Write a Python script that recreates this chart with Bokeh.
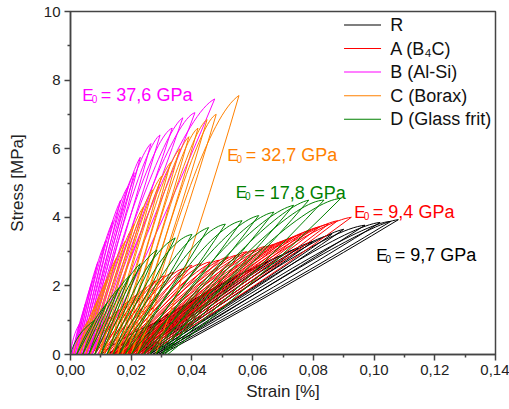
import numpy as np
from bokeh.plotting import figure
from bokeh.models import (ColumnDataSource, Label, FixedTicker,
                          CustomJSTickFormatter, Range1d)
from bokeh.embed import file_html
from bokeh.resources import INLINE

# ---------------- data ----------------
# R (reference) - black
R_peak_strain = [0.030, 0.035, 0.040, 0.045, 0.050, 0.055, 0.060, 0.065, 0.070,
                 0.075, 0.080, 0.086, 0.090, 0.097, 0.102, 0.1055, 0.108]
R_peak_stress = [1.0, 1.3, 1.55, 1.8, 2.05, 2.3, 2.5, 2.7, 2.9,
                 3.1, 3.3, 3.5, 3.65, 3.77, 3.85, 3.88, 3.93]
R_residual = [0.010, 0.012, 0.014, 0.016, 0.017, 0.018, 0.019, 0.020, 0.021,
              0.022, 0.023, 0.024, 0.025, 0.026, 0.027, 0.028, 0.029, 0.030]

# A (B4C) - red
A_peak_strain = [0.010, 0.013, 0.016, 0.019, 0.022, 0.025, 0.028, 0.031, 0.034, 0.037,
                 0.040, 0.043, 0.046, 0.049, 0.052, 0.055, 0.058, 0.061, 0.064, 0.067,
                 0.070, 0.073, 0.076, 0.079, 0.082, 0.085, 0.088, 0.0925]
A_peak_stress = [0.85, 1.1, 1.3, 1.55, 1.75, 1.95, 2.15, 2.3, 2.4, 2.5,
                 2.6, 2.65, 2.7, 2.75, 2.85, 2.9, 3.0, 3.05, 3.15, 3.2,
                 3.3, 3.4, 3.5, 3.62, 3.72, 3.8, 3.9, 4.0]
A_residual = [0.004, 0.005, 0.006, 0.007, 0.008, 0.009, 0.010, 0.011, 0.012, 0.013,
              0.0135, 0.014, 0.0145, 0.015, 0.0155, 0.016, 0.0165, 0.017, 0.0175, 0.018,
              0.0185, 0.019, 0.0195, 0.020, 0.021, 0.022, 0.023, 0.024, 0.025]

# B (Al-Si) - magenta
B_peak_strain = [0.003, 0.005, 0.007, 0.009, 0.0115, 0.014, 0.0165, 0.019,
                 0.021, 0.023, 0.0265, 0.0295, 0.0335, 0.037, 0.041, 0.0475]
B_peak_stress = [0.9, 1.5, 2.1, 2.7, 3.3, 3.9, 4.5, 4.9,
                 5.3, 5.75, 6.15, 6.4, 6.6, 6.9, 7.05, 7.45]
B_residual = [0.0, 0.0005, 0.001, 0.0015, 0.002, 0.0025, 0.003, 0.0035, 0.004,
              0.0045, 0.005, 0.0055, 0.006, 0.0065, 0.007, 0.008, 0.009]

# C (Borax) - orange
C_peak_strain = [0.006, 0.009, 0.012, 0.015, 0.018, 0.021, 0.024, 0.027,
                 0.030, 0.033, 0.036, 0.039, 0.042, 0.045, 0.048, 0.0555]
C_peak_stress = [1.0, 1.6, 2.2, 2.8, 3.3, 3.8, 4.3, 4.8,
                 5.2, 5.6, 6.0, 6.35, 6.6, 6.85, 7.0, 7.55]
C_residual = [0.001, 0.002, 0.003, 0.004, 0.005, 0.0065, 0.008, 0.0095, 0.011,
              0.0125, 0.014, 0.0155, 0.017, 0.0185, 0.020, 0.022, 0.028]

# D (Glass frit) - green
D_peak_strain = [0.008, 0.012, 0.016, 0.0195, 0.023, 0.0285, 0.0345, 0.040, 0.0455,
                 0.051, 0.0565, 0.062, 0.067, 0.0735, 0.0785, 0.0835, 0.089]
D_peak_stress = [1.0, 1.5, 1.95, 2.3, 2.65, 3.05, 3.4, 3.5, 3.7,
                 3.8, 3.9, 4.05, 4.15, 4.35, 4.5, 4.5, 4.55]
D_residual = [0.0, 0.002, 0.004, 0.006, 0.008, 0.010, 0.012, 0.014, 0.016,
              0.018, 0.020, 0.022, 0.024, 0.026, 0.028, 0.030, 0.031, 0.032]

series_names = ["R", "A (B\u2084C)", "B (Al-Si)", "C (Borax)", "D (Glass frit)"]
moduli = ["9,7", "9,4", "37,6", "32,7", "17,8"]

x_ticks = [0.0, 0.02, 0.04, 0.06, 0.08, 0.10, 0.12, 0.14]
y_ticks = [0, 2, 4, 6, 8, 10]

# ---------------- styles ----------------
colors = ["#000000", "#FF0000", "#FF00FF", "#FF8000", "#008000"]
# loop shape: first loading (a, b), reloading lift h, unloading (c, d)
shapes = [(0.35, 0.55, 0.05, 0.55, 0.52),
          (0.25, 0.60, 0.12, 0.55, 0.50),
          (0.22, 0.62, 0.08, 0.55, 0.50),
          (0.30, 0.58, 0.07, 0.55, 0.50),
          (0.22, 0.62, 0.14, 0.55, 0.50)]
FONT = "Liberation Sans"

p = figure(width=509, height=409, output_backend="svg", toolbar_location=None,
           x_range=Range1d(0, 0.14), y_range=Range1d(0, 10),
           min_border_left=70, min_border_right=14, min_border_top=11,
           min_border_bottom=55)
p.xgrid.visible = False
p.ygrid.visible = False
p.outline_line_color = "#444444"
p.outline_line_width = 1.5
p.background_fill_color = "white"
p.border_fill_color = "white"

all_data = [(R_peak_strain, R_peak_stress, R_residual),
            (A_peak_strain, A_peak_stress, A_residual),
            (B_peak_strain, B_peak_stress, B_residual),
            (C_peak_strain, C_peak_stress, C_residual),
            (D_peak_strain, D_peak_stress, D_residual)]

for (px, py, res), col, (a, b, h, c, d) in zip(all_data, colors, shapes):
    px = np.array(px); py = np.array(py); res = np.array(res)
    n = len(px)
    r0 = res[:n]; r1 = res[1:n + 1]
    z = np.zeros(n)
    # previous peak (the loop closes near it); the first loading uses its own shape
    qx = np.concatenate([[np.nan], px[:-1]])
    qy = np.concatenate([[np.nan], py[:-1]])
    cx0 = r0 + 0.45 * (qx - r0)
    cy0 = (0.45 + h) * qy
    cx1 = qx - 0.08 * (qx - r0)
    cy1 = qy.copy()
    # first cycle: quadratic-like concave loading
    fqx, fqy = r0[0] + a * (px[0] - r0[0]), b * py[0]
    cx0[0] = r0[0] + 2 / 3 * (fqx - r0[0]); cy0[0] = 2 / 3 * fqy
    cx1[0] = px[0] + 2 / 3 * (fqx - px[0]); cy1[0] = py[0] + 2 / 3 * (fqy - py[0])
    load = ColumnDataSource(dict(x0=r0, y0=z, x1=px, y1=py,
                                 cx0=cx0, cy0=cy0, cx1=cx1, cy1=cy1))
    ux, uy = r1 + c * (px - r1), d * py
    unload = ColumnDataSource(dict(x0=px, y0=py, x1=r1, y1=z,
                                   cx0=px + 2 / 3 * (ux - px), cy0=py + 2 / 3 * (uy - py),
                                   cx1=r1 + 2 / 3 * (ux - r1), cy1=2 / 3 * uy))
    for src in (load, unload):
        p.bezier(x0="x0", y0="y0", x1="x1", y1="y1", cx0="cx0", cy0="cy0",
                 cx1="cx1", cy1="cy1", source=src, line_color=col, line_width=1)

# ---- legend (drawn by hand, top right of the frame) ----
key_xc, key_tx = 0.0962, 0.1053
key_y = [9.606, 8.920, 8.234, 7.547, 6.861]
p.rect(x=[key_xc] * 5, y=key_y, width=37, height=1, width_units="screen",
       height_units="screen", fill_color=colors, line_color=None)
for yy, name in zip(key_y, series_names):
    p.add_layout(Label(x=key_tx, y=yy, text=name, text_font=FONT, text_font_size="18px",
                       text_color="#111111", text_baseline="middle"))

# axes
for ax in (p.xaxis[0], p.yaxis[0]):
    ax.axis_line_color = "#444444"
    ax.axis_line_width = 1.5
    ax.major_tick_line_color = "#444444"
    ax.minor_tick_line_color = "#444444"
    ax.major_tick_line_width = 1.5
    ax.minor_tick_line_width = 1.5
    ax.major_tick_in = 0
    ax.minor_tick_in = 0
    ax.major_tick_out = 6
    ax.minor_tick_out = 3
    ax.major_label_text_font = FONT
    ax.major_label_text_font_size = "15px"
    ax.major_label_text_color = "#222222"
    ax.axis_label_text_font = FONT
    ax.axis_label_text_font_size = "17px"
    ax.axis_label_text_font_style = "normal"
    ax.axis_label_text_color = "#222222"

p.xaxis.ticker = FixedTicker(ticks=x_ticks,
                             minor_ticks=[t + 0.01 for t in x_ticks[:-1]])
p.yaxis.ticker = FixedTicker(ticks=y_ticks, minor_ticks=[t + 1 for t in y_ticks[:-1]])
p.xaxis.formatter = CustomJSTickFormatter(code="return tick.toFixed(2).replace('.', ',');")
p.yaxis.formatter = CustomJSTickFormatter(code="return tick.toFixed(0);")
p.xaxis.axis_label = "Strain [%]"
p.yaxis.axis_label = "Stress [MPa]"
p.xaxis.major_label_standoff = 4
p.xaxis.axis_label_standoff = 4
p.yaxis.major_label_standoff = 4
p.yaxis.axis_label_standoff = 14

# E0 annotations (data coords of label start / baseline)
label_pos = [(0.1007, 2.89), (0.0935, 4.15), (0.0039, 7.56), (0.0516, 5.81), (0.0544, 4.71)]
for (lx, ly), col, mod in zip(label_pos, colors, moduli):
    p.add_layout(Label(x=lx, y=ly, text="E", text_font=FONT, text_font_size="17px",
                       text_color=col, text_baseline="alphabetic"))
    p.add_layout(Label(x=lx, y=ly, x_offset=9.4, y_offset=-3.5, text="0", text_font=FONT,
                       text_font_size="10px", text_color=col, text_baseline="alphabetic"))
    p.add_layout(Label(x=lx, y=ly, x_offset=18.5, text="= " + mod + " GPa", text_font=FONT,
                       text_font_size="18px", text_color=col, text_baseline="alphabetic"))

open("out.html", "w").write(file_html(p, INLINE))
